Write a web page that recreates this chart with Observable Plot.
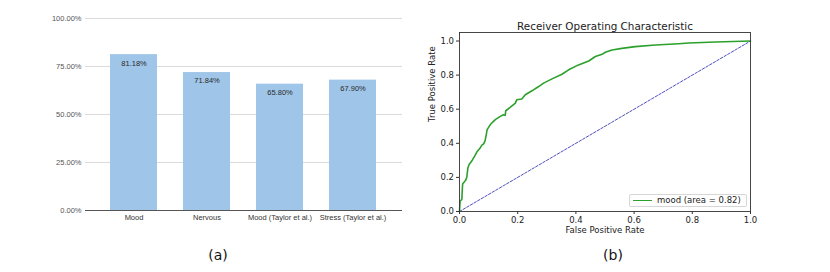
<!DOCTYPE html>
<html><head><meta charset="utf-8">
<script src="https://cdn.jsdelivr.net/npm/d3@7"></script>
<script src="https://cdn.jsdelivr.net/npm/@observablehq/plot@0.6"></script>
<style>
body{margin:0;background:#fff;}
#wrap{position:relative;width:830px;height:272px;overflow:hidden;background:#fff;}
.panel{position:absolute;top:0;}
.cap{position:absolute;font-family:"DejaVu Sans",sans-serif;font-size:14px;color:#111;transform:translate(-50%,-50%);white-space:nowrap;}
#legend{position:absolute;left:628.5px;top:193.5px;width:116px;height:11px;border:1px solid #d6d6d6;border-radius:2px;background:rgba(255,255,255,0.85);font-family:"DejaVu Sans",sans-serif;font-size:8.5px;color:#222;}
#legend .sw{position:absolute;left:3px;top:5px;width:19.5px;height:0;border-top:1.6px solid #2ca02c;}
#legend .lt{position:absolute;left:27.5px;top:0;line-height:11px;white-space:nowrap;}
</style></head><body><div id="wrap"></div><script>
const categories = ["Mood", "Nervous", "Mood (Taylor et al.)", "Stress (Taylor et al.)"];
const accuracy = [0.8118, 0.7184, 0.6580, 0.6790];
const barTicks = [0, 0.25, 0.5, 0.75, 1.0];

const fpr = [0, 0.002, 0.008, 0.010, 0.011, 0.020, 0.025, 0.029, 0.033, 0.042, 0.052, 0.060, 0.071, 0.077, 0.083, 0.088, 0.092, 0.095, 0.106, 0.123, 0.140, 0.151, 0.157, 0.159, 0.174, 0.192, 0.197, 0.214, 0.226, 0.249, 0.272, 0.289, 0.318, 0.352, 0.375, 0.409, 0.444, 0.467, 0.490, 0.501, 0.524, 0.558, 0.604, 0.673, 0.753, 0.788, 0.880, 1.0];
const tpr = [0, 0.062, 0.070, 0.140, 0.163, 0.180, 0.200, 0.257, 0.276, 0.296, 0.325, 0.350, 0.373, 0.389, 0.397, 0.416, 0.451, 0.480, 0.510, 0.539, 0.558, 0.568, 0.564, 0.591, 0.611, 0.636, 0.656, 0.660, 0.685, 0.708, 0.733, 0.753, 0.778, 0.805, 0.831, 0.860, 0.883, 0.909, 0.922, 0.934, 0.947, 0.957, 0.967, 0.977, 0.984, 0.988, 0.994, 1.0];
const rocTicks = [0, 0.2, 0.4, 0.6, 0.8, 1.0];
const chance = [0, 1];
const rocTitle = "Receiver Operating Characteristic";
const xLabel = "False Positive Rate";
const yLabel = "True Positive Rate";
const legendLabel = "mood (area = 0.82)";
const captions = ["(a)", "(b)"];

const bars = categories.map((c, i) => ({category: c, value: accuracy[i]}));
const roc = fpr.map((x, i) => ({fpr: x, tpr: tpr[i]}));
const diag = chance.map(v => ({v}));
const pct = d => (d * 100).toFixed(2) + "%";

const chartA = Plot.plot({
  width: 415, height: 230, marginLeft: 85, marginRight: 13, marginTop: 18, marginBottom: 20,
  style: {fontFamily: "'Liberation Sans', Arial, sans-serif", fontSize: "7.5px", color: "#555", background: "transparent"},
  x: {domain: categories, paddingInner: 0.35, paddingOuter: 0.34, label: null},
  y: {domain: [0, 1], label: null},
  marks: [
    Plot.gridY(barTicks, {stroke: "#dadada", strokeOpacity: 1}),
    Plot.barY(bars, {x: "category", y: "value", fill: "#9fc5e8"}),
    Plot.ruleY([0], {stroke: "#555", strokeWidth: 1}),
    Plot.text(bars, {x: "category", y: "value", text: d => pct(d.value), dy: 8.5, fill: "#2a2a2a", fontSize: 7.5}),
    Plot.axisY(barTicks, {tickSize: 0, tickPadding: 4, tickFormat: pct, fill: "#555", fontSize: 7.5}),
    Plot.axisX({tickSize: 0, tickPadding: 4.5, fill: "#333", fontSize: 7.5})
  ]
});

const chartB = Plot.plot({
  width: 415, height: 245, marginLeft: 44, marginRight: 80, marginTop: 32, marginBottom: 34,
  style: {fontFamily: "'DejaVu Sans', sans-serif", fontSize: "8.5px", color: "#222", background: "transparent"},
  x: {domain: [0, 1], label: null},
  y: {domain: [0, 1.05], label: null},
  marks: [
    Plot.line(diag, {x: "v", y: "v", stroke: "#3a3ab8", strokeWidth: 0.9, strokeDasharray: "2.6,1.6"}),
    Plot.line(roc, {x: "fpr", y: "tpr", stroke: "#2ca02c", strokeWidth: 1.6}),
    Plot.frame({stroke: "#333", strokeWidth: 0.9}),
    Plot.axisX(rocTicks, {tickSize: 3, tickPadding: 2, tickFormat: d3.format(".1f"), stroke: "#333", fill: "#222", fontSize: 8.5}),
    Plot.axisY(rocTicks, {tickSize: 3, tickPadding: 2.5, tickFormat: d3.format(".1f"), stroke: "#333", fill: "#222", fontSize: 8.5}),
    Plot.text([rocTitle], {frameAnchor: "top", dy: -9.5, fontSize: 10.4, fill: "#222"}),
    Plot.text([xLabel], {frameAnchor: "bottom", dy: 21.5, fontSize: 8.5, fill: "#222"}),
    Plot.text([yLabel], {frameAnchor: "left", dx: -27.5, rotate: -90, fontSize: 8.5, fill: "#222"})
  ]
});

const wrap = document.getElementById("wrap");
chartA.classList.add("panel"); chartA.style.left = "0px";
chartB.classList.add("panel"); chartB.style.left = "415px";
wrap.appendChild(chartA);
wrap.appendChild(chartB);

const leg = document.createElement("div");
leg.id = "legend";
leg.innerHTML = '<div class="sw"></div><div class="lt"></div>';
leg.querySelector(".lt").textContent = legendLabel;
wrap.appendChild(leg);

[[218, 255], [613, 255]].forEach(([cx, cy], i) => {
  const c = document.createElement("div");
  c.className = "cap";
  c.style.left = cx + "px"; c.style.top = cy + "px";
  c.textContent = captions[i];
  wrap.appendChild(c);
});
</script></body></html>
